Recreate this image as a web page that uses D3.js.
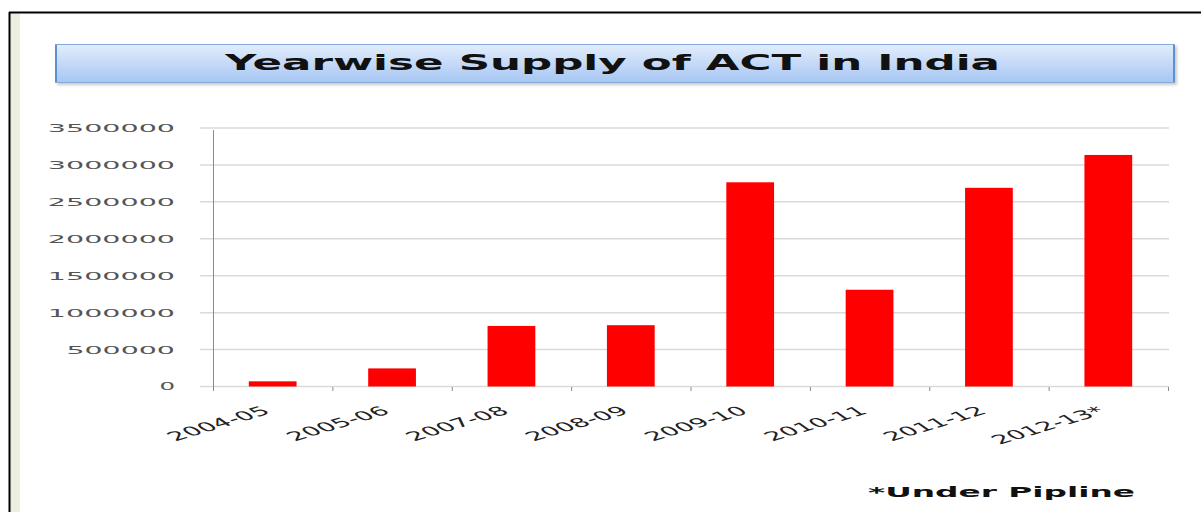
<!DOCTYPE html>
<html>
<head>
<meta charset="utf-8">
<script src="https://cdn.jsdelivr.net/npm/d3@7"></script>
<style>
  body { margin: 0; background: #fff; }
  svg { display: block; }
</style>
</head>
<body>
<svg width="1201" height="512"></svg>
<script>
// data
var years = ["2004-05", "2005-06", "2007-08", "2008-09", "2009-10", "2010-11", "2011-12", "2012-13*"];
var supply = [70000, 245000, 820000, 830000, 2765000, 1310000, 2690000, 3135000];
var yTicks = [0, 500000, 1000000, 1500000, 2000000, 2500000, 3000000, 3500000];
var title = "Yearwise Supply of ACT in India";
var note = "*Under Pipline";

var svg = d3.select("svg"),
    width = +svg.attr("width"),
    height = +svg.attr("height");

// page frame: black border + greenish strip on the left
svg.append("rect").attr("x", 10).attr("y", 13).attr("width", 10).attr("height", height - 13)
    .attr("fill", "#ebefdf");
svg.append("line").attr("x1", 9).attr("x2", width).attr("y1", 12.5).attr("y2", 12.5)
    .attr("stroke", "#000").attr("stroke-width", 2);
svg.append("line").attr("x1", 9.5).attr("x2", 9.5).attr("y1", 12).attr("y2", height)
    .attr("stroke", "#000").attr("stroke-width", 2);

// title box
var defs = svg.append("defs");
var grad = defs.append("linearGradient").attr("id", "tgrad")
    .attr("x1", 0).attr("y1", 0).attr("x2", 0).attr("y2", 1);
grad.append("stop").attr("offset", "0%").attr("stop-color", "#e2edfc");
grad.append("stop").attr("offset", "100%").attr("stop-color", "#a6c6f2");
var blur = defs.append("filter").attr("id", "shadow").attr("x", -0.05).attr("y", -0.3)
    .attr("width", 1.1).attr("height", 1.6);
blur.append("feGaussianBlur").attr("stdDeviation", 1.5);

svg.append("rect").attr("x", 57).attr("y", 46).attr("width", 1120).attr("height", 39)
    .attr("fill", "#c8c8c8").attr("filter", "url(#shadow)");
svg.append("rect").attr("x", 55.5).attr("y", 44.5).attr("width", 1119).attr("height", 38)
    .attr("fill", "url(#tgrad)").attr("stroke", "#86aadb").attr("stroke-width", 1);
svg.append("line").attr("x1", 56).attr("x2", 56).attr("y1", 45).attr("y2", 82)
    .attr("stroke", "#5e8fcf").attr("stroke-width", 2);
svg.append("line").attr("x1", 1174).attr("x2", 1174).attr("y1", 45).attr("y2", 82)
    .attr("stroke", "#5e8fcf").attr("stroke-width", 2);

svg.append("text")
    .attr("x", 225).attr("y", 70)
    .attr("textLength", 775).attr("lengthAdjust", "spacingAndGlyphs")
    .style("font-family", "DejaVu Sans").style("font-weight", "bold")
    .style("font-size", "21px").attr("fill", "#111")
    .text(title);

// scales
var x = d3.scaleBand().domain(years).range([213, 1168]).paddingInner(0.6).paddingOuter(0.3);
var y = d3.scaleLinear().domain([0, 3500000]).range([386.5, 128]);

// gridlines
svg.append("g").selectAll("line").data(yTicks).enter().append("line")
    .attr("x1", 200).attr("x2", 1169)
    .attr("y1", function(d) { return y(d); })
    .attr("y2", function(d) { return y(d); })
    .attr("stroke", "#dadada").attr("stroke-width", 1.5);

// y axis line
svg.append("line").attr("x1", 213.5).attr("x2", 213.5).attr("y1", 130).attr("y2", 391)
    .attr("stroke", "#8a8a8a").attr("stroke-width", 1);

// x tick marks at category boundaries
var bounds = [213].concat(years.map(function(d) { return x(d) + x.bandwidth() + x.step() * x.paddingInner() / 2; }));
bounds[bounds.length - 1] = 1168;
svg.append("g").selectAll("line").data(bounds).enter().append("line")
    .attr("x1", function(d) { return d + 0.5; })
    .attr("x2", function(d) { return d + 0.5; })
    .attr("y1", 387).attr("y2", 391)
    .attr("stroke", "#8a8a8a").attr("stroke-width", 1);

// y tick labels, stretched wide like the reference
svg.append("g").selectAll("text").data(yTicks).enter().append("text")
    .attr("x", 175).attr("y", function(d) { return y(d); })
    .attr("dy", "0.36em")
    .attr("text-anchor", "end")
    .attr("textLength", function(d) { return String(d).length * 18.6 - 3; })
    .attr("lengthAdjust", "spacingAndGlyphs")
    .style("font-family", "DejaVu Sans").style("font-size", "11px")
    .attr("fill", "#555")
    .text(function(d) { return String(d); });

// bars
svg.append("g").selectAll("rect").data(supply).enter().append("rect")
    .attr("x", function(d, i) { return x(years[i]); })
    .attr("y", function(d) { return y(d); })
    .attr("width", x.bandwidth())
    .attr("height", function(d) { return y(0) - y(d); })
    .attr("fill", "#ff0000");

// category labels, rotated and then stretched sideways
svg.append("g").selectAll("text").data(years).enter().append("text")
    .attr("transform", function(d) {
      var cx = x(d) + x.bandwidth() / 2 - 1;
      return "translate(" + cx + ",413) scale(2.2,1) rotate(-33)";
    })
    .attr("text-anchor", "end")
    .style("font-family", "DejaVu Sans").style("font-size", "12.5px")
    .attr("fill", "#222")
    .text(function(d) { return d; });

// footnote
svg.append("text")
    .attr("x", 868).attr("y", 497)
    .attr("textLength", 267).attr("lengthAdjust", "spacingAndGlyphs")
    .style("font-family", "DejaVu Sans").style("font-weight", "bold")
    .style("font-size", "14px").attr("fill", "#111")
    .text(note);
</script>
</body>
</html>
